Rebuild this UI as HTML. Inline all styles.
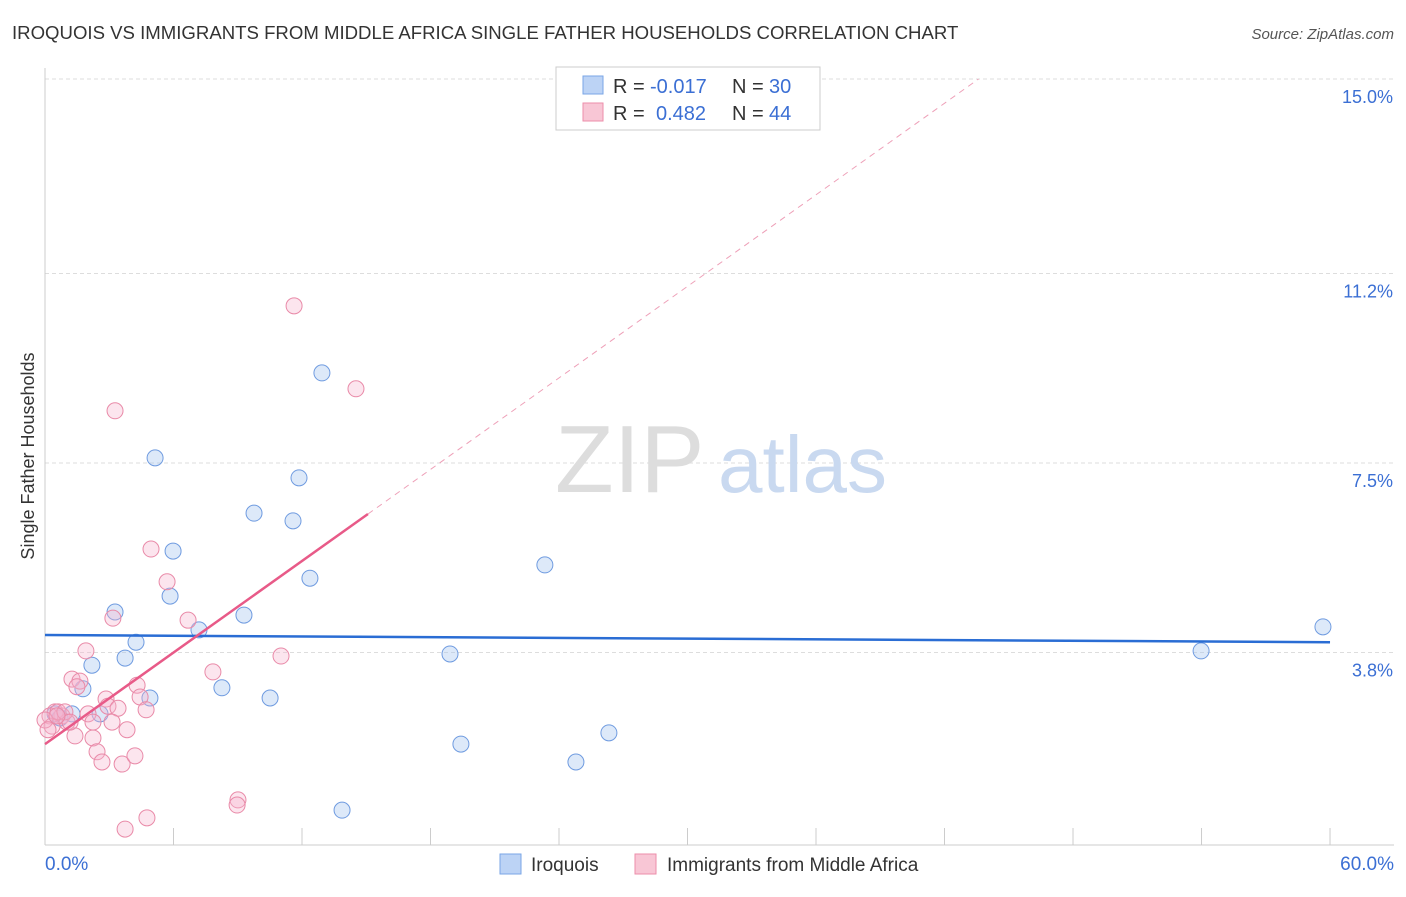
<!DOCTYPE html>
<html><head><meta charset="utf-8"><style>
body{margin:0;background:#fff;font-family:"Liberation Sans",sans-serif;}
svg text{font-family:"Liberation Sans",sans-serif;}
</style></head><body>
<svg width="1406" height="892" viewBox="0 0 1406 892">
<text x="12" y="39" font-size="18.6" fill="#333">IROQUOIS VS IMMIGRANTS FROM MIDDLE AFRICA SINGLE FATHER HOUSEHOLDS CORRELATION CHART</text>
<text x="1394" y="39" font-size="15" fill="#555" text-anchor="end" font-style="italic">Source: ZipAtlas.com</text>
<g id="grid"></g>
<g id="axes"></g>
<text x="555" y="492" font-size="96" fill="#ddd" font-family="Liberation Serif">ZIP</text>
<text x="718" y="492" font-size="80" fill="#c9d9f0">atlas</text>
<g id="marks"></g>
<text transform="translate(34,456) rotate(-90)" font-size="18" fill="#333" text-anchor="middle">Single Father Households</text>
<g>
<rect x="556" y="67" width="264" height="63" fill="#fff" stroke="#ccc"/>
<rect x="583" y="76" width="20" height="18" fill="#bcd3f5" stroke="#7aa6e6"/>
<rect x="583" y="103" width="20" height="18" fill="#f8c6d5" stroke="#ec8eaa"/>
<g font-size="20" fill="#333">
<text x="613" y="93">R =</text><text x="650" y="93" fill="#3b6fd4">-0.017</text><text x="732" y="93">N =</text><text x="769" y="93" fill="#3b6fd4">30</text>
<text x="613" y="120">R =</text><text x="656" y="120" fill="#3b6fd4">0.482</text><text x="732" y="120">N =</text><text x="769" y="120" fill="#3b6fd4">44</text>
</g>
</g>
<g>
<rect x="500" y="854" width="21" height="20" fill="#bcd3f5" stroke="#7aa6e6"/>
<text x="531" y="871" font-size="19" fill="#333">Iroquois</text>
<rect x="635" y="854" width="21" height="20" fill="#f8c6d5" stroke="#ec8eaa"/>
<text x="667" y="871" font-size="19" fill="#333">Immigrants from Middle Africa</text>
</g>
</svg>
<script>
const yTicks=[3.8,7.5,11.2,15.0];
const yTickLabels=["3.8%","7.5%","11.2%","15.0%"];
const xTickLabels=["0.0%","60.0%"];
const iroX=[3.27,4.25,3.74,2.19,1.77,2.57,1.26,5.14,5.98,5.84,7.19,8.26,9.29,9.76,10.51,11.58,11.86,12.37,12.93,13.87,18.91,19.42,23.34,24.79,26.33,53.98,59.67,4.90,0.47,0.70];
const iroY=[4.59,4.00,3.69,3.55,3.09,2.60,2.60,7.60,5.78,4.90,4.24,3.11,4.53,6.52,2.91,6.37,7.21,5.25,9.26,0.72,3.77,2.01,5.51,1.66,2.23,3.83,4.30,2.91,2.60,2.52];
const afrX=[11.63,14.52,3.27,4.95,5.70,3.17,6.68,1.91,7.84,11.02,1.26,1.63,1.49,4.30,2.85,4.44,2.94,3.41,4.72,2.01,0.47,0.79,1.03,2.24,3.13,3.83,1.40,2.24,2.43,2.66,3.60,4.20,9.01,8.97,4.76,3.74,0.23,0.33,0.61,0.0,0.93,1.17,0.56,0.14];
const afrY=[10.57,8.95,8.52,5.82,5.18,4.47,4.43,3.83,3.42,3.73,3.28,3.24,3.13,3.16,2.89,2.93,2.75,2.71,2.68,2.60,2.64,2.56,2.44,2.44,2.44,2.29,2.17,2.13,1.86,1.66,1.62,1.78,0.92,0.82,0.57,0.35,2.56,2.36,2.64,2.48,2.64,2.44,2.56,2.29];
const iroTrend=[4.14,4.00];
const afrTrend=[2.01,0.298];
const NS="http://www.w3.org/2000/svg";
const sx=v=>45+v*21.417, sy=v=>847-v*51.2;
function mk(t,a,p){const e=document.createElementNS(NS,t);for(const k in a)e.setAttribute(k,a[k]);p.appendChild(e);return e;}
const grid=document.getElementById('grid'),axes=document.getElementById('axes'),marks=document.getElementById('marks');
yTicks.forEach((v,i)=>{
 const l=mk('line',{x1:45,x2:1394,y1:sy(v),y2:sy(v),stroke:'#ddd','stroke-dasharray':'4,3'},grid);
 
 
 const t=mk('text',{x:1393,y:sy(v)+24,'font-size':18,fill:'#3b6fd4','text-anchor':'end'},axes);
 t.textContent=yTickLabels[i];
 
 
});
mk('line',{x1:45,x2:45,y1:68,y2:845,stroke:'#ccc'},axes);
mk('line',{x1:45,x2:1394,y1:845,y2:845,stroke:'#ccc'},axes);
for(let i=0;i<=10;i++){const tk=mk('line',{x1:sx(i*6),x2:sx(i*6),y1:828,y2:845,stroke:'#ccc'},axes);
 
 }
[[0,45,'start'],[60,1394,'end']].forEach((d,i)=>{const t=mk('text',{x:d[1],y:870,'font-size':19,fill:'#3b6fd4','text-anchor':d[2]},axes);t.textContent=xTickLabels[i];
 
 });
iroX.forEach((x,i)=>{const c=mk('circle',{cx:sx(x),cy:sy(iroY[i]),r:8,fill:'rgba(170,200,240,0.4)',stroke:'#6f9be0','stroke-width':1},marks);
 
 });
afrX.forEach((x,i)=>{const c=mk('circle',{cx:sx(x),cy:sy(afrY[i]),r:8,fill:'rgba(245,180,205,0.35)',stroke:'#e98aa8','stroke-width':1},marks);
 
 });
const bl=mk('line',{x1:sx(0),y1:sy(iroTrend[0]),x2:sx(60),y2:sy(iroTrend[1]),stroke:'#2a6dd4','stroke-width':2.5},marks);


const xe=15.08,xd=(15-afrTrend[0])/afrTrend[1];
const pl=mk('line',{x1:sx(0),y1:sy(afrTrend[0]),x2:sx(xe),y2:sy(afrTrend[0]+afrTrend[1]*xe),stroke:'#e85a88','stroke-width':2.5},marks);


const pd=mk('line',{x1:sx(xe),y1:sy(afrTrend[0]+afrTrend[1]*xe),x2:sx(xd),y2:sy(15),stroke:'#eea0b8','stroke-width':1,'stroke-dasharray':'6,5'},marks);


</script>
</body></html>
